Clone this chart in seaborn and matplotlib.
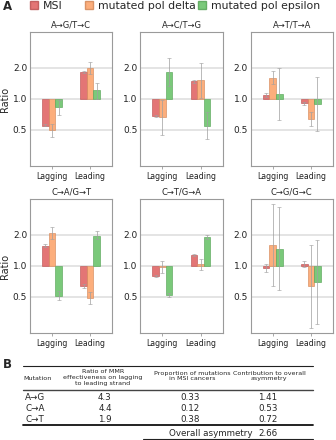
import numpy as np
import pandas as pd
import matplotlib.pyplot as plt
import seaborn as sns
from matplotlib.patches import Patch
from matplotlib.lines import Line2D
from matplotlib.colors import to_rgb

# dados (razao leading/lagging, escala log)
titulos = ['A→G/T→C', 'A→C/T→G', 'A→T/T→A', 'C→A/G→T', 'C→T/G→A', 'C→G/G→C']
fitas = ['Lagging', 'Leading']
grupos = ['MSI', 'mutated pol delta', 'mutated pol epsilon']
cores = ['#e06666', '#fca56e', '#6cc46c']

msi = [[0.55, 1.81], [0.68, 1.48], [1.09, 0.91], [1.57, 0.64], [0.79, 1.27], [0.955, 1.05]]
delta = [[0.50, 2.00], [0.66, 1.52], [1.58, 0.64], [2.08, 0.48], [0.98, 1.03], [1.60, 0.64]]
epsilon = [[0.835, 1.22], [1.82, 0.55], [1.11, 0.90], [0.51, 1.95], [0.52, 1.91], [1.45, 0.69]]

msi_lo = [[0.54, 1.78], [0.66, 1.42], [1.04, 0.88], [1.52, 0.61], [0.77, 1.25], [0.87, 0.98]]
msi_hi = [[0.57, 1.85], [0.70, 1.54], [1.15, 0.93], [1.63, 0.67], [0.81, 1.29], [1.05, 1.10]]
delta_lo = [[0.43, 1.75], [0.45, 1.03], [1.41, 0.55], [1.80, 0.42], [0.85, 0.90], [0.64, 0.25]]
delta_hi = [[0.57, 2.30], [0.97, 2.25], [1.87, 0.75], [2.40, 0.55], [1.12, 1.16], [4.00, 1.58]]
eps_lo = [[0.70, 1.00], [1.33, 0.41], [0.62, 0.49], [0.46, 1.80], [0.50, 1.80], [0.58, 0.27]]
eps_hi = [[0.97, 1.44], [2.48, 0.75], [2.00, 1.64], [0.57, 2.20], [0.54, 2.00], [3.70, 1.78]]

# tabela B
mutacao = ['A→G', 'C→A', 'C→T']
razao_mmr = [4.3, 4.4, 1.9]
proporcao = [0.33, 0.12, 0.38]
contribuicao = [1.41, 0.53, 0.72]
assimetria_total = 2.66

sns.set_theme(style="whitegrid")
plt.rcParams['font.family'] = ['DejaVu Sans']
plt.rcParams['axes.edgecolor'] = '#9a9a9a'
plt.rcParams['axes.linewidth'] = 0.8
plt.rcParams['grid.color'] = '#dcdcdc'
plt.rcParams['grid.linewidth'] = 1.1
plt.rcParams['xtick.bottom'] = True
plt.rcParams['xtick.major.size'] = 2
plt.rcParams['xtick.major.width'] = 0.6
plt.rcParams['xtick.color'] = '#9a9a9a'
plt.rcParams['xtick.labelcolor'] = '#222222'
plt.rcParams['ytick.labelcolor'] = '#222222'

fig, axes = plt.subplots(2, 3, figsize=(3.36, 4.40), dpi=100)
fig.subplots_adjust(left=0.089, right=0.991, top=0.927, bottom=0.243, wspace=0.34, hspace=0.243)

valores = [msi, delta, epsilon]
inferior = [msi_lo, delta_lo, eps_lo]
superior = [msi_hi, delta_hi, eps_hi]

for i, ax in enumerate(axes.flat):
    linhas = []
    for g, grupo in enumerate(grupos):
        for f, fita in enumerate(fitas):
            linhas.append({'fita': fita, 'grupo': grupo, 'log2': np.log2(valores[g][i][f])})
    df = pd.DataFrame(linhas)
    sns.barplot(data=df, x='fita', y='log2', hue='grupo', hue_order=grupos, order=fitas,
                palette=cores, width=0.52, errorbar=None, saturation=1, legend=False, ax=ax,
                alpha=0.9, linewidth=0.5)
    barras = list(ax.containers)
    for g, cont in enumerate(barras):
        escura = tuple(c * 0.85 for c in to_rgb(cores[g]))
        for f, barra in enumerate(cont):
            barra.set_edgecolor(escura)
            xc = barra.get_x() + barra.get_width() / 2
            y = np.log2(valores[g][i][f])
            lo = np.log2(inferior[g][i][f])
            hi = np.log2(superior[g][i][f])
            ax.errorbar(xc, y, yerr=[[y - lo], [hi - y]], fmt='none', ecolor='#a0a0a0',
                        elinewidth=0.6, capsize=1.2, capthick=0.5, alpha=0.85)
    ax.set_xlim(-0.58, 1.58)
    ax.set_ylim(-2.18, 2.16)
    ax.set_yticks([-1, 0, 1])
    ax.set_yticklabels(['0.5', '1.0', '2.0'])
    ax.tick_params(axis='y', labelsize=6.5, pad=2, length=0)
    ax.tick_params(axis='x', labelsize=5.6, pad=2)
    ax.set_xlabel('')
    ax.set_title(titulos[i], fontsize=6, pad=3)
    if i % 3 == 0:
        ax.set_ylabel('Ratio', fontsize=7, labelpad=2)
    else:
        ax.set_ylabel('')

# legenda: uma entrada por vez, nas posicoes da figura original
pos_legenda = [30 / 336, 85 / 336, 198 / 336]
for c, nome, xl in zip(cores, grupos, pos_legenda):
    h = Patch(facecolor=c, edgecolor=tuple(v * 0.85 for v in to_rgb(c)), alpha=0.9)
    fig.legend([h], [nome], loc='center left', bbox_to_anchor=(xl, 0.986), frameon=False,
               fontsize=7.8, handlelength=0.75, handleheight=0.75, handletextpad=0.45,
               borderaxespad=0, borderpad=0)
fig.text(0.008, 0.986, 'A', fontsize=8.5, fontweight='bold', va='center', ha='left')

# tabela B desenhada em coordenadas de pixel
tab = fig.add_axes([0, 0, 1, 90 / 440])
tab.set_xlim(0, 336)
tab.set_ylim(440, 350)
tab.axis('off')

tab.text(3, 364, 'B', fontsize=8.5, fontweight='bold', va='center', ha='left')
tab.add_line(Line2D([23, 313], [366, 366], color='#222222', lw=0.8))
tab.text(38, 378, 'Mutation', fontsize=4.6, ha='center', va='center')
tab.text(103, 377.5, 'Ratio of MMR\neffectiveness on lagging\nto leading strand', fontsize=4.6,
         ha='center', va='center', linespacing=1.15)
tab.text(192, 376, 'Proportion of mutations\nin MSI cancers', fontsize=4.6, ha='center', va='center',
         linespacing=1.1)
tab.text(269, 376, 'Contribution to overall\nasymmetry', fontsize=4.6, ha='center', va='center',
         linespacing=1.1)
tab.add_line(Line2D([23, 313], [389.5, 389.5], color='#444444', lw=1.0))

linhas_y = [397, 408.5, 419.5]
for k in range(len(mutacao)):
    y = linhas_y[k]
    tab.text(25, y, mutacao[k], fontsize=6.3, ha='left', va='center')
    tab.text(105, y, f'{razao_mmr[k]:.1f}', fontsize=6.3, ha='center', va='center')
    tab.text(190, y, f'{proporcao[k]:.2f}', fontsize=6.3, ha='center', va='center')
    tab.text(268, y, f'{contribuicao[k]:.2f}', fontsize=6.3, ha='center', va='center')

tab.add_line(Line2D([23, 313], [425, 425], color='#111111', lw=1.3))
tab.text(211, 433.5, 'Overall asymmetry', fontsize=6.3, ha='center', va='center')
tab.text(268, 433.5, f'{assimetria_total:.2f}', fontsize=6.3, ha='center', va='center')
tab.add_line(Line2D([143, 313], [438.5, 438.5], color='#222222', lw=0.8))

fig.savefig('out.png', dpi=100)
